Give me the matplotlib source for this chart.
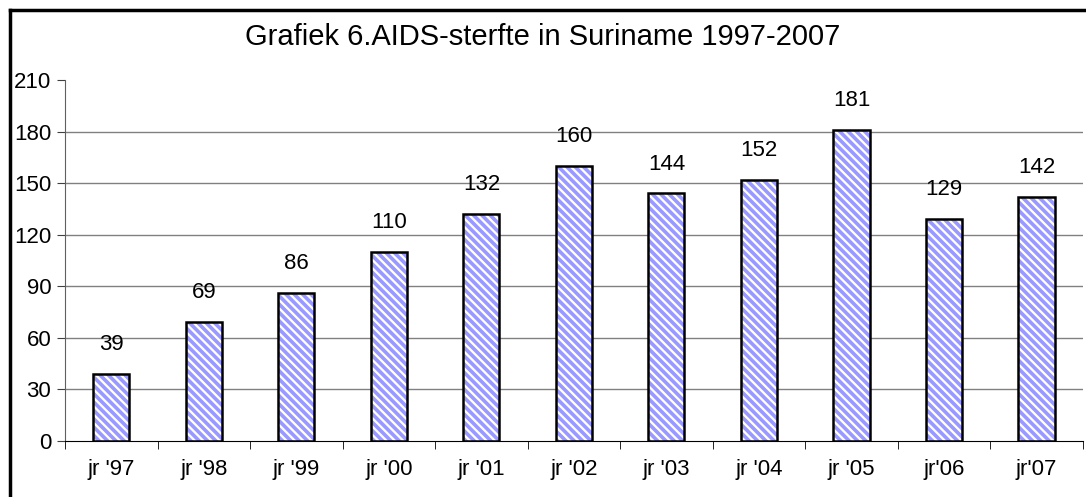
import matplotlib
matplotlib.use("Agg")
import matplotlib.pyplot as plt

years = ["jr '97", "jr '98", "jr '99", "jr '00", "jr '01", "jr '02",
         "jr '03", "jr '04", "jr '05", "jr'06", "jr'07"]
deaths = [39, 69, 86, 110, 132, 160, 144, 152, 181, 129, 142]
yticks = [0, 30, 60, 90, 120, 150, 180, 210]

plt.rcParams['font.family'] = ['Liberation Sans', 'DejaVu Sans']
plt.rcParams['hatch.linewidth'] = 2.6

fig = plt.figure(figsize=(10.86, 4.97), dpi=100)
ax = fig.add_axes([0.06, 0.113, 0.937, 0.726])

x = list(range(len(years)))
# hatched fill (hatch takes the edge colour) then a black outline on top
ax.bar(x, deaths, width=0.39, facecolor='white', edgecolor='#9999ff',
       linewidth=0, hatch='\\\\\\\\', zorder=3)
ax.bar(x, deaths, width=0.39, fill=False, edgecolor='black',
       linewidth=1.8, zorder=4)
for xi, v in zip(x, deaths):
    ax.text(xi, v + 11, str(v), ha='center', va='bottom', fontsize=16)

ax.set_xlim(-0.5, len(years) - 0.5)
ax.set_ylim(0, 210)
ax.set_yticks(yticks)
ax.set_yticklabels([str(t) for t in yticks], fontsize=16)
ax.set_xticks(x)
ax.set_xticklabels(years, fontsize=16)
ax.set_xticks([i - 0.5 for i in range(len(years) + 1)], minor=True)
ax.tick_params(axis='x', which='major', length=0, pad=13)
ax.tick_params(axis='x', which='minor', length=6, direction='out')
ax.tick_params(axis='y', length=6, direction='out', pad=4, color='#404040')

for t in yticks[1:-1]:
    ax.axhline(t, color='#808080', linewidth=1, zorder=1)

for s in ['top', 'right']:
    ax.spines[s].set_visible(False)
ax.spines['left'].set_color('#606060')
ax.spines['bottom'].set_color('black')

fig.text(0.5, 0.926, "Grafiek 6.AIDS-sterfte in Suriname 1997-2007",
         ha='center', va='center', fontsize=21)

# frame around the chart (only top and left are visible in the crop)
fig.add_artist(plt.Line2D([0.009, 1.0], [0.98, 0.98], color='black',
                          linewidth=2.5, transform=fig.transFigure))
fig.add_artist(plt.Line2D([0.009, 0.009], [0.0, 0.98], color='black',
                          linewidth=2.5, transform=fig.transFigure))

fig.savefig("out.png", dpi=100)
